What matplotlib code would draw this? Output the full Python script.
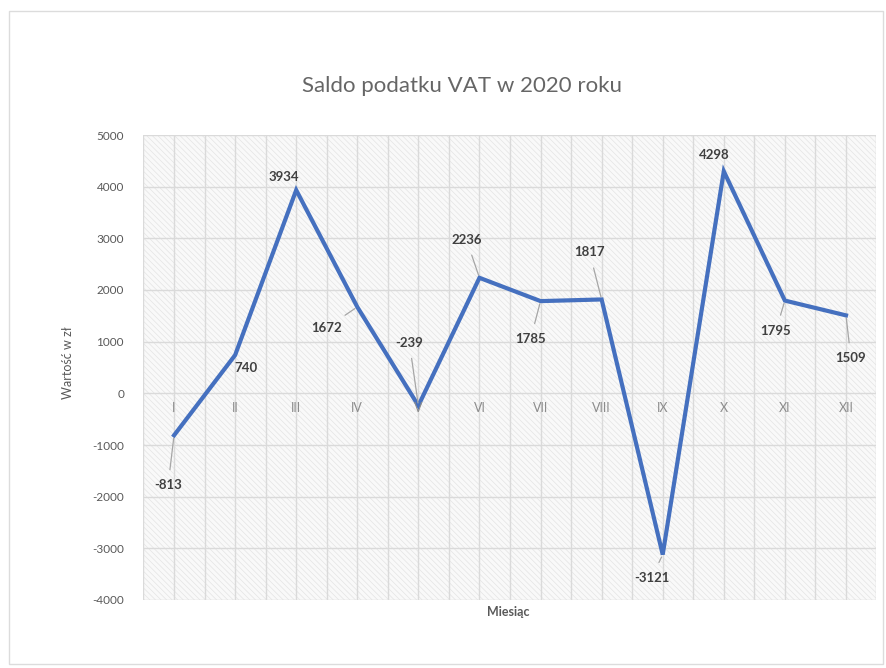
import matplotlib
matplotlib.use("Agg")
from matplotlib import pyplot as plt
from matplotlib.patches import Rectangle
import numpy as np

plt.rcParams['font.family'] = ['Lato', 'DejaVu Sans']
plt.rcParams['hatch.color'] = '#e4e4e4'
plt.rcParams['hatch.linewidth'] = 0.5

months = ['I', 'II', 'III', 'IV', 'V', 'VI', 'VII', 'VIII', 'IX', 'X', 'XI', 'XII']
saldo = [-813, 740, 3934, 1672, -239, 2236, 1785, 1817, -3121, 4298, 1795, 1509]
y_ticks = [-4000, -3000, -2000, -1000, 0, 1000, 2000, 3000, 4000, 5000]

# label offsets in pixels (dx, dy), True = draw leader line
label_pos = [(-6, -50, True), (11, -13, False), (-12, 13, False), (-31, -21, True),
             (-9, 63, True), (-13, 38, True), (-10, -38, True), (-12, 47, True),
             (-11, -23, True), (-10, 16, False), (-9, -30, True), (5, -43, True)]

fig = plt.figure(figsize=(8.87, 6.68), dpi=100)
fig.patches.append(Rectangle((9 / 887, 1 - 664 / 668), 874 / 887, 653 / 668,
                             transform=fig.transFigure, fill=False,
                             edgecolor='#dcdcdc', linewidth=1.0))

ax = fig.add_axes([143.5 / 887, 1 - 600 / 668, 733 / 887, 465 / 668])
ax.patch.set_facecolor('#f9f9f9')
ax.patch.set_hatch('\\\\\\\\\\\\')
ax.patch.set_edgecolor('#e4e4e4')

x = np.arange(len(months))
ax.plot(x, saldo, color='#4570bf', linewidth=3.0, zorder=3, solid_joinstyle='miter')

ax.set_xlim(-0.5, len(months) - 0.5)
ax.set_ylim(-4000, 5000)
ax.set_yticks(y_ticks)
ax.set_yticklabels([str(v) for v in y_ticks], color='#595959', fontsize=8.5)
ax.set_xticks(np.arange(-0.5, len(months), 0.5))
ax.tick_params(axis='x', length=0, labelbottom=False)
ax.tick_params(axis='y', length=0, pad=14)
ax.grid(True, color='#dadada', linewidth=1.0, zorder=1)
ax.set_axisbelow(True)
for s in ax.spines.values():
    s.set_visible(False)

for i, m in enumerate(months):
    ax.annotate(m, (i, 0), xytext=(0, -15), textcoords='offset pixels',
                ha='center', va='center', color='#8c8c8c', fontsize=9)

for i, v in enumerate(saldo):
    dx, dy, leader = label_pos[i]
    ap = None
    if leader:
        ap = dict(arrowstyle='-', color='#a6a6a6', linewidth=0.9, shrinkA=5, shrinkB=2)
    ax.annotate(str(v), (i, v), xytext=(dx, dy), textcoords='offset pixels',
                ha='center', va='center', fontsize=9.5, fontweight='bold',
                color='#404040', arrowprops=ap, zorder=4)

fig.text(462 / 887, 1 - 86 / 668, 'Saldo podatku VAT w 2020 roku',
         ha='center', va='center', fontsize=16, color='#666666')
fig.text(508 / 887, 1 - 612 / 668, 'Miesiąc', ha='center', va='center',
         fontsize=9, color='#595959', fontweight='bold')
fig.text(68 / 887, 1 - 363 / 668, 'Wartość w zł', ha='center', va='center',
         fontsize=9, color='#595959', rotation=90)

fig.savefig('out.png', dpi=100, facecolor='white')
